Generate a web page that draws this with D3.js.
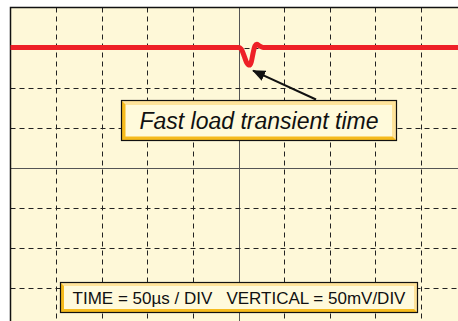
<!DOCTYPE html>
<html>
<head>
<meta charset="utf-8">
<script src="https://cdn.jsdelivr.net/npm/d3@7"></script>
<style>
  html, body { margin: 0; padding: 0; background: #ffffff; }
  svg { display: block; }
</style>
</head>
<body>
<div id="chart"></div>
<script>
// scope settings: 10 divisions of 50 µs, 8 divisions of 50 mV
const timePerDiv = 50;   // µs
const voltPerDiv = 50;   // mV
const divsX = 10;
const divsY = 8;

// trace: [time µs, level mV]
const traceTime  = [0, 250, 253, 256, 259, 262, 264, 266, 268, 270, 273, 277, 500];
const traceLevel = [150, 150, 148, 140, 131, 128, 132, 143, 152, 154, 152, 150, 150];

const calloutText = "Fast load transient time";
const calloutTip = [266, 121];     // arrow tip (µs, mV)
const calloutTail = [335, 85];     // arrow tail (µs, mV)
const calloutCenter = [272, 59];   // box centre (µs, mV)

const scaleText = "TIME = 50\u00b5s / DIV   VERTICAL = 50mV/DIV";
const scaleCenter = [250, -162];

const W = 458, H = 321;
const screen = { left: 10.5, top: 7.5, width: 456, height: 320 };

const svg = d3.select("#chart").append("svg")
  .attr("width", W)
  .attr("height", H);

const x = d3.scaleLinear()
  .domain([0, timePerDiv * divsX])
  .range([screen.left, screen.left + screen.width]);

const y = d3.scaleLinear()
  .domain([-voltPerDiv * divsY / 2, voltPerDiv * divsY / 2])
  .range([screen.top + screen.height, screen.top]);

svg.append("rect")
  .attr("x", screen.left).attr("y", screen.top)
  .attr("width", screen.width).attr("height", screen.height)
  .attr("fill", "#fef8d8");

// graticule
const xLines = d3.range(1, divsX).map(i => i * timePerDiv);
const yLines = d3.range(1, divsY).map(i => -voltPerDiv * divsY / 2 + i * voltPerDiv);

const grid = svg.append("g");
grid.selectAll(".vx")
  .data(xLines)
  .enter().append("line")
  .attr("x1", d => Math.round(x(d)) + 0.5).attr("x2", d => Math.round(x(d)) + 0.5)
  .attr("y1", screen.top).attr("y2", screen.top + screen.height)
  .attr("stroke", d => d === 250 ? "#555" : "#222")
  .attr("stroke-width", 1)
  .attr("stroke-dasharray", d => d === 250 ? null : "5,4");

grid.selectAll(".hy")
  .data(yLines)
  .enter().append("line")
  .attr("y1", d => Math.round(y(d)) + 0.5).attr("y2", d => Math.round(y(d)) + 0.5)
  .attr("x1", screen.left).attr("x2", screen.left + screen.width)
  .attr("stroke", d => d === 0 ? "#555" : "#222")
  .attr("stroke-width", 1)
  .attr("stroke-dasharray", d => d === 0 ? null : "5,4");

// border
svg.append("path")
  .attr("d", `M${screen.left},${screen.top + screen.height} V${screen.top} H${screen.left + screen.width}`)
  .attr("fill", "none")
  .attr("stroke", "#111")
  .attr("stroke-width", 1.5);

// trace
const traceData = traceTime.map((t, i) => [t, traceLevel[i]]);
const line = d3.line()
  .x(d => x(d[0]))
  .y(d => y(d[1]))
  .curve(d3.curveMonotoneX);

svg.append("path")
  .datum(traceData)
  .attr("d", line)
  .attr("fill", "none")
  .attr("stroke", "#ee2027")
  .attr("stroke-width", 5)
  .attr("stroke-linejoin", "round");

// bevelled label box
function bevelBox(cx, cy, w, h, b, text, fontSize, italic) {
  const x0 = Math.round(cx - w / 2) + 0.5, y0 = Math.round(cy - h / 2) + 0.5;
  const x1 = x0 + w, y1 = y0 + h;
  const g = svg.append("g");
  g.append("rect")
    .attr("x", x0).attr("y", y0).attr("width", w).attr("height", h)
    .attr("fill", "#f6bb1c");
  g.append("path")
    .attr("d", `M${x0},${y0} H${x1} V${y1} L${x1 - b},${y1 - b} V${y0 + b} H${x0 + b} Z`)
    .attr("fill", "#ffe39a");
  g.append("rect")
    .attr("x", x0 + b).attr("y", y0 + b).attr("width", w - 2 * b).attr("height", h - 2 * b)
    .attr("fill", "#fffadb");
  g.append("rect")
    .attr("x", x0).attr("y", y0).attr("width", w).attr("height", h)
    .attr("fill", "none").attr("stroke", "#111").attr("stroke-width", 1.2);
  g.append("text")
    .attr("x", (x0 + x1) / 2).attr("y", (y0 + y1) / 2)
    .attr("dy", "0.36em")
    .attr("text-anchor", "middle")
    .attr("font-family", "'Liberation Sans', Arial, sans-serif")
    .attr("font-size", fontSize)
    .attr("font-style", italic ? "italic" : "normal")
    .attr("fill", "#111")
    .attr("xml:space", "preserve")
    .style("white-space", "pre")
    .text(text);
}

// arrow
svg.append("defs").append("marker")
  .attr("id", "head")
  .attr("viewBox", "0 0 13 11")
  .attr("refX", 12).attr("refY", 5.5)
  .attr("markerWidth", 13).attr("markerHeight", 11)
  .attr("markerUnits", "userSpaceOnUse")
  .attr("orient", "auto")
  .append("path")
  .attr("d", "M0,0 L13,5.5 L0,11 Z")
  .attr("fill", "#111");

svg.append("line")
  .attr("x1", x(calloutTail[0])).attr("y1", y(calloutTail[1]))
  .attr("x2", x(calloutTip[0])).attr("y2", y(calloutTip[1]))
  .attr("stroke", "#111")
  .attr("stroke-width", 2)
  .attr("marker-end", "url(#head)");

bevelBox(x(calloutCenter[0]), y(calloutCenter[1]), 275, 40, 4, calloutText, 23, true);
bevelBox(x(scaleCenter[0]), y(scaleCenter[1]), 357, 30, 3.5, scaleText, 17, false);
</script>
</body>
</html>
